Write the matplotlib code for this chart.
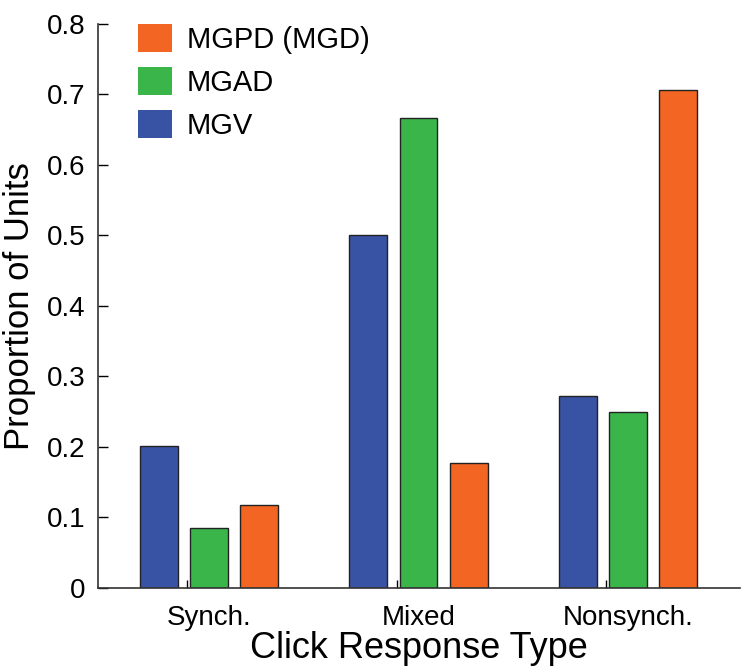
import matplotlib
matplotlib.use("Agg")
import matplotlib.pyplot as plt
import numpy as np
from matplotlib.patches import Patch

plt.rcParams['font.family'] = ['Liberation Sans', 'DejaVu Sans']

categories = ["Synch.", "Mixed", "Nonsynch."]
series_names = ["MGV", "MGAD", "MGPD (MGD)"]
mgv = [0.202, 0.500, 0.272]
mgad = [0.085, 0.667, 0.250]
mgpd = [0.118, 0.177, 0.707]
yticks = [0, 0.1, 0.2, 0.3, 0.4, 0.5, 0.6, 0.7, 0.8]
ytick_labels = ["0", "0.1", "0.2", "0.3", "0.4", "0.5", "0.6", "0.7", "0.8"]

colors = {"MGV": "#3953A4", "MGAD": "#3AB54A", "MGPD (MGD)": "#F26522"}

fig = plt.figure(figsize=(7.5, 6.7), dpi=100)
ax = fig.add_axes([0.1307, 0.1224, 0.856, 0.8418])

x = np.arange(1, len(categories) + 1)
w = 0.18
off = 0.24
for vals, name, d in [(mgv, "MGV", -off), (mgad, "MGAD", 0), (mgpd, "MGPD (MGD)", off)]:
    ax.bar(x + d, vals, width=w, color=colors[name], edgecolor="#222222", linewidth=1.0, zorder=2)

ax.set_xlim(0.47, 3.535)
ax.set_ylim(0, 0.8)
ax.set_yticks(yticks)
ax.set_yticklabels(ytick_labels)
ax.set_xticks(x)
ax.set_xticklabels(categories)
ax.set_xticks(x - 0.105, minor=True)
ax.tick_params(axis='x', which='major', length=0, labelsize=20, pad=12)
ax.tick_params(axis='x', which='minor', direction='in', length=6, width=1.0)
ax.tick_params(axis='y', direction='in', length=7, width=1.0, labelsize=20, pad=9)
for s in ["top", "right"]:
    ax.spines[s].set_visible(False)
for s in ["left", "bottom"]:
    ax.spines[s].set_linewidth(1.2)
    ax.spines[s].set_color("#333333")

ax.set_xlabel("Click Response Type", fontsize=26, labelpad=0)
ax.set_ylabel("Proportion of Units", fontsize=25, labelpad=8)

handles = [Patch(facecolor=colors[n], edgecolor='none') for n in ["MGPD (MGD)", "MGAD", "MGV"]]
ax.legend(handles, ["MGPD (MGD)", "MGAD", "MGV"], loc='upper left',
          bbox_to_anchor=(0.063, 1.0), frameon=False, fontsize=21,
          handlelength=1.15, handleheight=1.1, labelspacing=0.45,
          handletextpad=0.5, borderpad=0.0, borderaxespad=0.0)

fig.savefig("out.png", dpi=100)
